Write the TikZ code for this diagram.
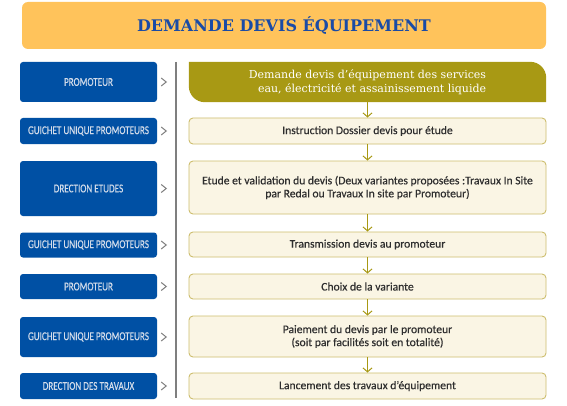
\documentclass[tikz,border=0pt]{standalone}
\usepackage{fontspec}
\setmainfont{Carlito}
\newfontfamily\bodyfont[FakeBold=0.45]{Carlito}
\newfontfamily\condfont[FakeStretch=0.76,FakeBold=0.3]{Carlito}
\newfontfamily\slabfont{DejaVu Serif}
\usetikzlibrary{arrows.meta}
\definecolor{titlebg}{HTML}{FFC35B}
\definecolor{titletx}{HTML}{1A4BA6}
\definecolor{bluebox}{HTML}{0050A4}
\definecolor{bluetx}{HTML}{D3DCEA}
\definecolor{oliveC}{HTML}{A89914}
\definecolor{lightfill}{HTML}{FAF5E4}
\definecolor{lightdraw}{HTML}{CDBE6E}
\definecolor{chev}{HTML}{7F7F7F}
\definecolor{bodytx}{HTML}{2E2E2E}
\tikzset{
  actor/.style={fill=bluebox, rounded corners=3pt, minimum width=137pt, inner sep=0pt,
    text=bluetx, font=\condfont\fontsize{12}{14}\selectfont, align=center},
  stepbox/.style={fill=lightfill, draw=lightdraw, line width=0.9pt, rounded corners=4pt,
    minimum width=357pt, inner sep=0pt, text=bodytx,
    font=\bodyfont\fontsize{11.6}{13}\selectfont, align=center},
  chevr/.style={draw=chev, line width=1pt},
  flow/.style={draw=oliveC, line width=1pt, -{Straight Barb[length=4pt,width=9pt,line width=1pt]}}
}
\begin{document}
\begin{tikzpicture}[x=1pt,y=1pt]
\useasboundingbox[fill=white] (0,0) rectangle (567,405);
% title
\node[fill=titlebg, rounded corners=6pt, minimum width=524pt, minimum height=47pt, inner sep=0pt,
  text=titletx, font=\slabfont\bfseries\fontsize{16}{18}\selectfont] (title) at (284,379.5) {DEMANDE DEVIS ÉQUIPEMENT};
% vertical line
\coordinate (vtop) at (176,343);
\coordinate (vbot) at (176,7);
\draw[chev, line width=1.3pt] (vtop) -- (vbot);
% left actors
\node[actor, minimum height=40pt] (a1) at (88.5,323) {PROMOTEUR};
\node[actor, minimum height=26pt] (a2) at (88.5,274) {GUICHET UNIQUE PROMOTEURS};
\node[actor, minimum height=55pt] (a3) at (88.5,216.5) {DRECTION ETUDES};
\node[actor, minimum height=25pt] (a4) at (88.5,160) {GUICHET UNIQUE PROMOTEURS};
\node[actor, minimum height=25pt] (a5) at (88.5,118.5) {PROMOTEUR};
\node[actor, minimum height=40pt] (a6) at (88.5,68) {GUICHET UNIQUE PROMOTEURS};
\node[actor, minimum height=26pt] (a7) at (88.5,19) {DRECTION DES TRAVAUX};
% chevrons
\foreach \i in {1,...,7}{
  \draw[chevr] ([xshift=4pt,yshift=4pt]a\i.east) -- ([xshift=9pt]a\i.east) -- ([xshift=4pt,yshift=-4pt]a\i.east);
}
% right steps
\node[minimum width=357pt, minimum height=40pt, inner sep=0pt] (r1) at (367.5,323) {};
\fill[oliveC] (r1.north west) -- ([xshift=-16pt]r1.north east) arc[start angle=90, end angle=0, radius=16pt]
  -- (r1.south east) -- ([xshift=16pt]r1.south west) arc[start angle=270, end angle=180, radius=16pt] -- cycle;
\node[text=white, font=\slabfont\fontsize{11}{13.5}\selectfont, align=right] (r1t) at (r1.center)
  {Demande devis d’équipement des services\\eau, électricité et assainissement liquide};
\node[stepbox, minimum height=26pt] (r2) at (367.5,274) {Instruction Dossier devis pour étude};
\node[stepbox, minimum height=53pt] (r3) at (367.5,217.5) {Etude et validation du devis (Deux variantes proposées :Travaux In Site\\par Redal ou Travaux In site par Promoteur)};
\node[stepbox, minimum height=25pt] (r4) at (367.5,160.5) {Transmission devis au promoteur};
\node[stepbox, minimum height=25pt] (r5) at (367.5,118.5) {Choix de la variante};
\node[stepbox, minimum height=41pt] (r6) at (367.5,68.5) {Paiement du devis par le promoteur\\(soit par facilités soit en totalité)};
\node[stepbox, minimum height=26pt] (r7) at (367.5,19) {Lancement des travaux d’équipement};
% flow arrows
\foreach \a/\b in {1/2,2/3,3/4,4/5,5/6,6/7}{
  \draw[flow] (r\a.south) -- (r\b.north);
}
\end{tikzpicture}
\end{document}
